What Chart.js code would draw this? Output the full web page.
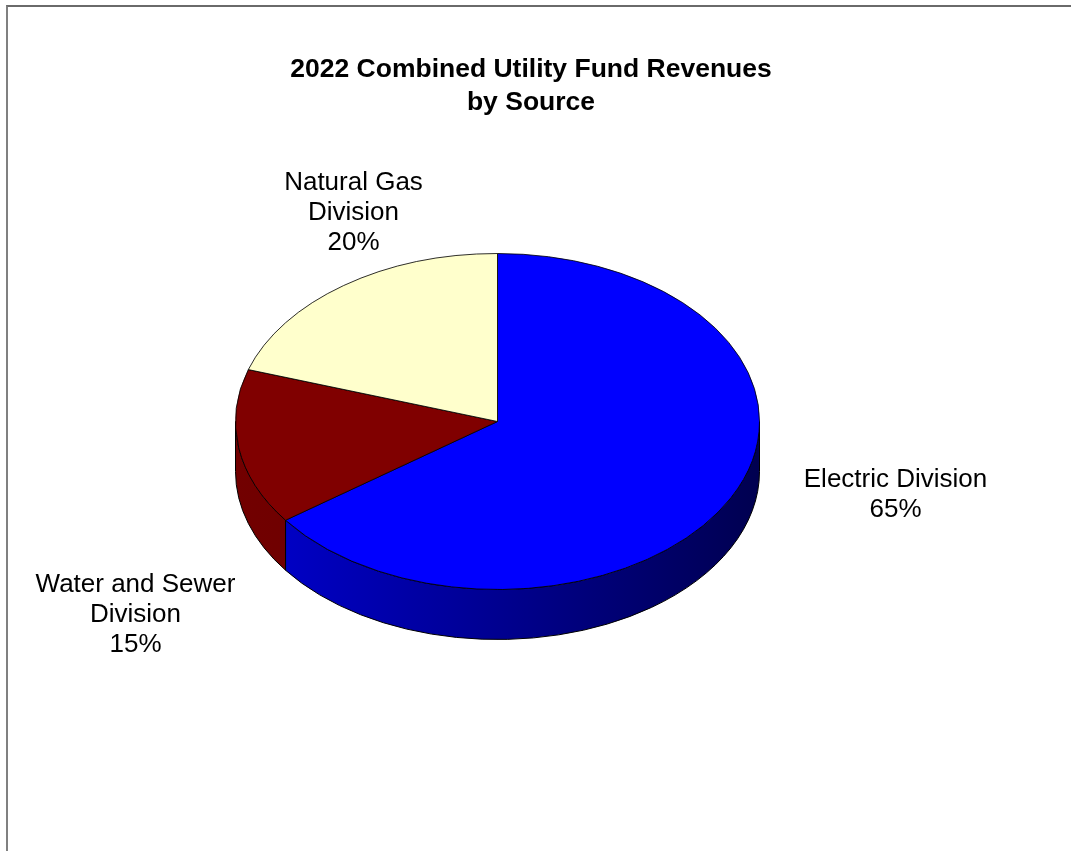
<!DOCTYPE html>
<html>
<head>
<meta charset="utf-8">
<script src="https://cdn.jsdelivr.net/npm/chart.js@4.4.0/dist/chart.umd.min.js"></script>
<style>
  html, body { margin: 0; padding: 0; background: #fff; }
  #wrap { position: relative; width: 1071px; height: 851px; overflow: hidden; }
  #frame { position: absolute; left: 6px; top: 5px; right: -10px; bottom: -10px;
           border-top: 2px solid #6a6a6a; border-left: 2px solid #808080; }
  canvas { position: absolute; left: 0; top: 0; }
</style>
</head>
<body>
<div id="wrap">
  <div id="frame"></div>
  <canvas id="pie" width="1071" height="851"></canvas>
</div>
<script>
const titleLines = ["2022 Combined Utility Fund Revenues", "by Source"];
const divisions = [["Electric Division"], ["Water and Sewer", "Division"], ["Natural Gas", "Division"]];
const shares = [65, 15, 20];

// styling
const topColors = ["#0000ff", "#800000", "#ffffcc"];
const rimColors = [["#0000d0", "#000050"], ["#720000", "#580000"], ["#d8d8a8", "#b0b088"]];
const FONT = '"Liberation Sans", Arial, sans-serif';
const TILT = 168 / 262;   // how flat the top face is
const DEPTH = 50;         // rim height in px
const LINE = 30;          // label line pitch
// label block anchors relative to pie centre (first baseline)
const labelSpots = [[398, 65], [-362, 170], [-144, -232]];

function drawText(ctx, text, cx, base, font) {
  ctx.save();
  ctx.font = font;
  ctx.fillStyle = "#000";
  ctx.textAlign = "center";
  ctx.textBaseline = "alphabetic";
  ctx.fillText(text, cx, base);
  ctx.restore();
}

const pie3d = {
  id: "pie3d",
  beforeDatasetsDraw(chart) {
    const ctx = chart.ctx;
    const arcs = chart.getDatasetMeta(0).data;
    const { x, y, outerRadius: r } = arcs[0];
    const ry = r * TILT;
    ctx.save();
    arcs.forEach((arc, i) => {
      // only the front half of the rim shows
      const a1 = Math.max(arc.startAngle, 0);
      const a2 = Math.min(arc.endAngle, Math.PI);
      if (a2 <= a1) return;
      const g = ctx.createLinearGradient(x - r, 0, x + r, 0);
      g.addColorStop(0, rimColors[i][0]);
      g.addColorStop(1, rimColors[i][1]);
      ctx.beginPath();
      ctx.ellipse(x, y, r, ry, 0, a1, a2);
      ctx.ellipse(x, y + DEPTH, r, ry, 0, a2, a1, true);
      ctx.closePath();
      ctx.fillStyle = g;
      ctx.fill();
      ctx.lineWidth = 1;
      ctx.strokeStyle = "#000";
      ctx.stroke();
    });
    ctx.restore();
    // squash the top face into an ellipse
    ctx.save();
    ctx.translate(x, y);
    ctx.scale(1, TILT);
    ctx.translate(-x, -y);
  },
  afterDatasetsDraw(chart) {
    chart.ctx.restore();
  },
  afterDraw(chart) {
    const ctx = chart.ctx;
    drawText(ctx, titleLines[0], 531, 77, "bold 26.5px " + FONT);
    drawText(ctx, titleLines[1], 531, 110, "bold 26.5px " + FONT);
    const { x, y } = chart.getDatasetMeta(0).data[0];
    divisions.forEach((lines, i) => {
      const rows = lines.concat(shares[i] + "%");
      rows.forEach((t, k) => {
        drawText(ctx, t, x + labelSpots[i][0], y + labelSpots[i][1] + k * LINE, "26px " + FONT);
      });
    });
  }
};

new Chart(document.getElementById("pie").getContext("2d"), {
  type: "pie",
  data: {
    labels: divisions.map(l => l.join(" ")),
    datasets: [{
      data: shares,
      backgroundColor: topColors,
      borderColor: "#000",
      borderWidth: 1
    }]
  },
  options: {
    responsive: false,
    animation: false,
    events: [],
    layout: { padding: { left: 235, right: 311, top: 159, bottom: 167 } },
    plugins: { legend: { display: false }, title: { display: false }, tooltip: { enabled: false } }
  },
  plugins: [pie3d]
});
</script>
</body>
</html>
